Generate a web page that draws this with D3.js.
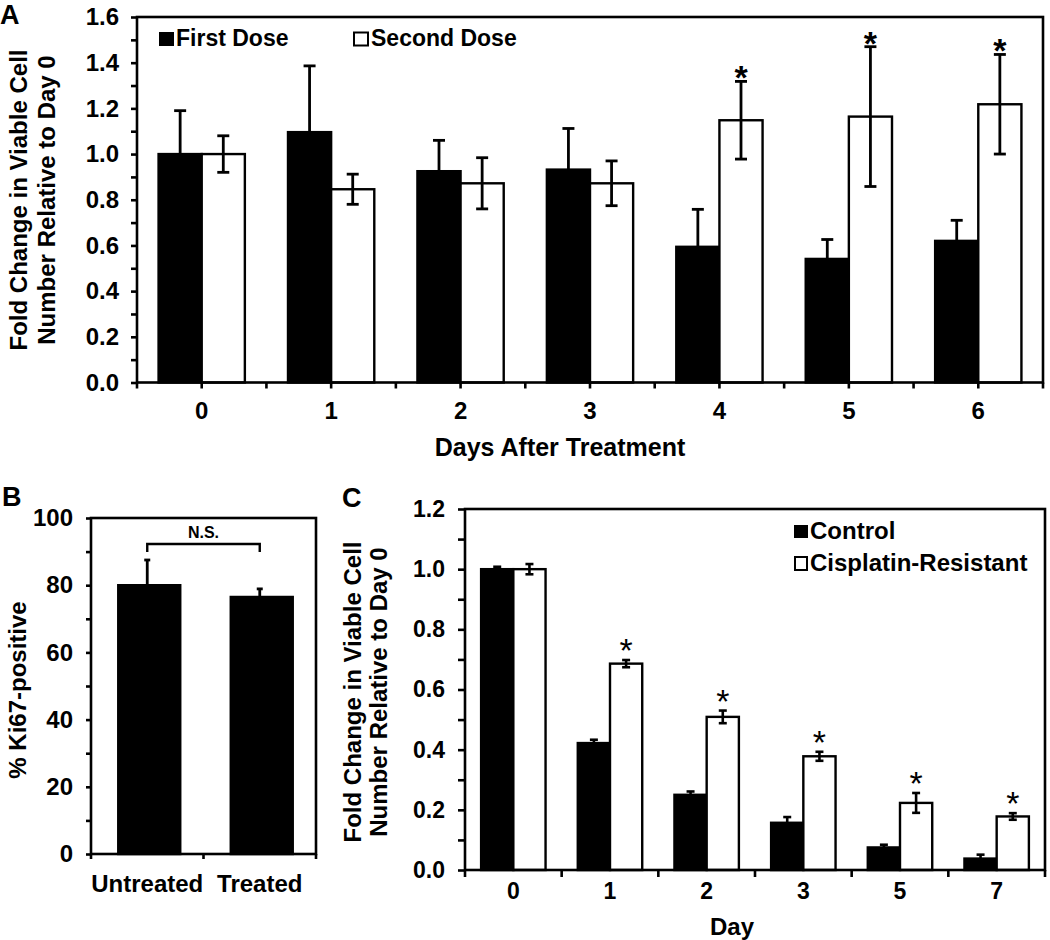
<!DOCTYPE html>
<html>
<head>
<meta charset="utf-8">
<script src="https://cdn.jsdelivr.net/npm/d3@7"></script>
<style>
  body { margin: 0; background: #fff; }
  svg text { font-family: "Liberation Sans", Arial, sans-serif; font-weight: bold; fill: #000; }
</style>
</head>
<body>
<div id="fig"></div>
<script>
// ---- data ----
// panel A
let daysA = ["0", "1", "2", "3", "4", "5", "6"];
let firstDose = [1.00, 1.096, 0.925, 0.932, 0.594, 0.541, 0.620];
let firstErr = [0.19, 0.29, 0.135, 0.18, 0.164, 0.085, 0.09];
let secondDose = [1.00, 0.846, 0.872, 0.872, 1.148, 1.164, 1.218];
let secondErr = [0.08, 0.066, 0.112, 0.098, 0.17, 0.306, 0.218];
let sigA = [false, false, false, false, true, true, true];
let yTicksA = [0, 0.2, 0.4, 0.6, 0.8, 1.0, 1.2, 1.4, 1.6];

// panel B
let groupsB = ["Untreated", "Treated"];
let ki67 = [80, 76.5];
let ki67Err = [7.5, 2.4];
let yTicksB = [0, 20, 40, 60, 80, 100];

// panel C
let daysC = ["0", "1", "2", "3", "5", "7"];
let control = [1.0, 0.422, 0.25, 0.157, 0.075, 0.038];
let controlErr = [0.008, 0.011, 0.011, 0.019, 0.009, 0.013];
let resistant = [1.0, 0.686, 0.509, 0.378, 0.223, 0.178];
let resistantErr = [0.017, 0.012, 0.021, 0.015, 0.033, 0.011];
let sigC = [false, true, true, true, true, true];
let yTicksC = [0, 0.2, 0.4, 0.6, 0.8, 1.0, 1.2];

let svg = d3.select("#fig").append("svg")
    .attr("width", 1050)
    .attr("height", 940);

svg.append("rect").attr("width", 1050).attr("height", 940).attr("fill", "#fff");

// draws one bar panel; series = [{name, values, errs, fill}]
function panel(opt) {
    let x0 = d3.scaleBand().domain(opt.cats).range([opt.left, opt.right]).padding(0);
    let x1 = d3.scaleBand().domain(opt.series.map(s => s.name))
        .range([0, x0.bandwidth()]).paddingInner(0).paddingOuter(opt.outer);
    let y = d3.scaleLinear().domain([0, opt.max]).range([opt.bottom, opt.top]);

    let g = svg.append("g");

    // bars
    opt.series.forEach(function(s) {
        g.selectAll(null)
            .data(opt.cats)
            .enter()
            .append("rect")
            .attr("class", "bar")
            .attr("x", (d, i) => x0(d) + x1(s.name))
            .attr("y", (d, i) => y(s.values[i]))
            .attr("width", x1.bandwidth())
            .attr("height", (d, i) => y(0) - y(s.values[i]))
            .attr("fill", s.fill)
            .attr("stroke", "#000")
            .attr("stroke-width", 2.4);
    });

    // error bars
    opt.series.forEach(function(s) {
        let eg = g.selectAll(null)
            .data(opt.cats)
            .enter()
            .append("g")
            .attr("stroke", "#000")
            .attr("stroke-width", opt.errWidth);
        let cx = (d) => x0(d) + x1(s.name) + x1.bandwidth() / 2;
        eg.append("line")
            .attr("x1", cx).attr("x2", cx)
            .attr("y1", (d, i) => y(s.values[i] - s.errs[i]))
            .attr("y2", (d, i) => y(s.values[i] + s.errs[i]));
        eg.append("line")
            .attr("x1", d => cx(d) - opt.cap).attr("x2", d => cx(d) + opt.cap)
            .attr("y1", (d, i) => y(s.values[i] + s.errs[i]))
            .attr("y2", (d, i) => y(s.values[i] + s.errs[i]));
        eg.append("line")
            .attr("x1", d => cx(d) - opt.cap).attr("x2", d => cx(d) + opt.cap)
            .attr("y1", (d, i) => y(s.values[i] - s.errs[i]))
            .attr("y2", (d, i) => y(s.values[i] - s.errs[i]));

        if (s.sig) {
            g.selectAll(null)
                .data(opt.cats.filter((d, i) => s.sig[i]))
                .enter()
                .append("text")
                .attr("x", cx)
                .attr("y", d => {
                    let i = opt.cats.indexOf(d);
                    return y(s.values[i] + s.errs[i]) + opt.starDy;
                })
                .attr("text-anchor", "middle")
                .style("font-size", opt.starSize + "px")
                .style("font-weight", opt.starWeight)
                .text("*");
        }
    });

    // frame
    g.append("rect")
        .attr("x", opt.left).attr("y", opt.top)
        .attr("width", opt.right - opt.left)
        .attr("height", opt.bottom - opt.top)
        .attr("fill", "none")
        .attr("stroke", "#000")
        .attr("stroke-width", 2.6);

    // y axis
    let minor = d3.range(0, opt.max + opt.minorStep / 2, opt.minorStep);
    let yAxis = d3.axisLeft(y)
        .tickValues(minor)
        .tickSize(opt.tick)
        .tickPadding(opt.pad)
        .tickFormat(d => opt.yTicks.some(t => Math.abs(t - d) < 1e-9) ? opt.fmt(d) : "");
    let ya = g.append("g")
        .attr("transform", `translate(${opt.left},0)`)
        .call(yAxis);
    ya.select(".domain").remove();
    ya.selectAll("line").attr("stroke", "#000").attr("stroke-width", 2.6);
    ya.selectAll("text").style("font-size", opt.tickFont + "px")
        .style("font-family", "'Liberation Sans', Arial, sans-serif")
        .style("font-weight", "bold");

    // x axis: tick marks at category edges (and centres when asked)
    let marks = [];
    opt.cats.forEach(function(d) {
        marks.push(x0(d));
        if (opt.centreTicks) marks.push(x0(d) + x0.bandwidth() / 2);
    });
    marks.push(opt.right);
    g.selectAll(null)
        .data(marks)
        .enter()
        .append("line")
        .attr("x1", d => d).attr("x2", d => d)
        .attr("y1", opt.bottom).attr("y2", opt.bottom + opt.tick)
        .attr("stroke", "#000")
        .attr("stroke-width", 2.6);

    g.selectAll(null)
        .data(opt.cats)
        .enter()
        .append("text")
        .attr("x", d => x0(d) + x0.bandwidth() / 2)
        .attr("y", opt.bottom + opt.xLabelDy)
        .attr("text-anchor", "middle")
        .style("font-size", opt.xFont + "px")
        .text(d => d);

    return { x0: x0, x1: x1, y: y, g: g };
}

// ---------------- panel A ----------------
let pA = panel({
    cats: daysA, left: 137, right: 1043, top: 17, bottom: 382.5, max: 1.6,
    outer: 0.5, cap: 6, errWidth: 2.8,
    series: [
        { name: "First Dose", values: firstDose, errs: firstErr, fill: "#000" },
        { name: "Second Dose", values: secondDose, errs: secondErr, fill: "#fff", sig: sigA }
    ],
    yTicks: yTicksA, minorStep: 0.1, fmt: d3.format(".1f"),
    tick: 6, pad: 12, tickFont: 24, xFont: 24, xLabelDy: 36, centreTicks: true,
    starDy: 8, starSize: 34, starWeight: "bold"
});

svg.append("text").attr("x", 0).attr("y", 24).style("font-size", "27px").text("A");

// legend A
svg.append("rect").attr("x", 159).attr("y", 32).attr("width", 15).attr("height", 14).attr("fill", "#000");
svg.append("text").attr("x", 176).attr("y", 46).style("font-size", "23px").text("First Dose");
svg.append("rect").attr("x", 354).attr("y", 32.5).attr("width", 14).attr("height", 13)
    .attr("fill", "#fff").attr("stroke", "#000").attr("stroke-width", 2);
svg.append("text").attr("x", 371).attr("y", 46).style("font-size", "23px").text("Second Dose");

svg.append("text")
    .attr("transform", "translate(27,200) rotate(-90)")
    .attr("text-anchor", "middle").style("font-size", "24px")
    .text("Fold Change in Viable Cell");
svg.append("text")
    .attr("transform", "translate(55,200) rotate(-90)")
    .attr("text-anchor", "middle").style("font-size", "24px")
    .text("Number Relative to Day 0");
svg.append("text")
    .attr("x", 560).attr("y", 456)
    .attr("text-anchor", "middle").style("font-size", "25px")
    .text("Days After Treatment");

// ---------------- panel B ----------------
let pB = panel({
    cats: groupsB, left: 91, right: 316, top: 518, bottom: 854, max: 100,
    outer: 0.1, cap: 3, errWidth: 2.8,
    series: [
        { name: "Ki67", values: ki67, errs: ki67Err, fill: "#000" }
    ],
    yTicks: yTicksB, minorStep: 10, fmt: d3.format("d"),
    tick: 5, pad: 13, tickFont: 24, xFont: 24, xLabelDy: 38, centreTicks: false,
    starDy: 0, starSize: 0, starWeight: "bold"
});
// the B bars are narrower than the band, centred on it
pB.g.selectAll("rect.bar")
    .attr("x", d => pB.x0(d) + pB.x0.bandwidth() / 2 - 31 + 2)
    .attr("width", 62);

svg.append("text").attr("x", 2).attr("y", 506).style("font-size", "27px").text("B");

// N.S. bracket between the two groups
let bx1 = pB.x0(groupsB[0]) + pB.x0.bandwidth() / 2;
let bx2 = pB.x0(groupsB[1]) + pB.x0.bandwidth() / 2;
svg.append("path")
    .attr("d", `M${bx1},552 V544 H${bx2} V552`)
    .attr("fill", "none").attr("stroke", "#000").attr("stroke-width", 2.4);
svg.append("text").attr("x", (bx1 + bx2) / 2).attr("y", 538)
    .attr("text-anchor", "middle").style("font-size", "16px").text("N.S.");

svg.append("text")
    .attr("transform", "translate(26,690) rotate(-90)")
    .attr("text-anchor", "middle").style("font-size", "24px")
    .text("% Ki67-positive");

// ---------------- panel C ----------------
let pC = panel({
    cats: daysC, left: 465, right: 1045, top: 509, bottom: 870, max: 1.2,
    outer: 0.5, cap: 4, errWidth: 2.6,
    series: [
        { name: "Control", values: control, errs: controlErr, fill: "#000" },
        { name: "Cisplatin-Resistant", values: resistant, errs: resistantErr, fill: "#fff", sig: sigC }
    ],
    yTicks: yTicksC, minorStep: 0.1, fmt: d3.format(".1f"),
    tick: 7, pad: 13, tickFont: 23, xFont: 23, xLabelDy: 29, centreTicks: false,
    starDy: 2, starSize: 34, starWeight: "normal"
});

svg.append("text").attr("x", 342).attr("y", 507).style("font-size", "27px").text("C");

// legend C
svg.append("rect").attr("x", 794).attr("y", 525).attr("width", 14).attr("height", 13).attr("fill", "#000");
svg.append("text").attr("x", 810).attr("y", 539).style("font-size", "24px").text("Control");
svg.append("rect").attr("x", 795).attr("y", 557).attr("width", 12).attr("height", 13)
    .attr("fill", "#fff").attr("stroke", "#000").attr("stroke-width", 2);
svg.append("text").attr("x", 810).attr("y", 571).style("font-size", "24px").text("Cisplatin-Resistant");

svg.append("text")
    .attr("transform", "translate(361,692) rotate(-90)")
    .attr("text-anchor", "middle").style("font-size", "24px")
    .text("Fold Change in Viable Cell");
svg.append("text")
    .attr("transform", "translate(387,692) rotate(-90)")
    .attr("text-anchor", "middle").style("font-size", "24px")
    .text("Number Relative to Day 0");
svg.append("text")
    .attr("x", 732).attr("y", 935)
    .attr("text-anchor", "middle").style("font-size", "24px")
    .text("Day");
</script>
</body>
</html>
